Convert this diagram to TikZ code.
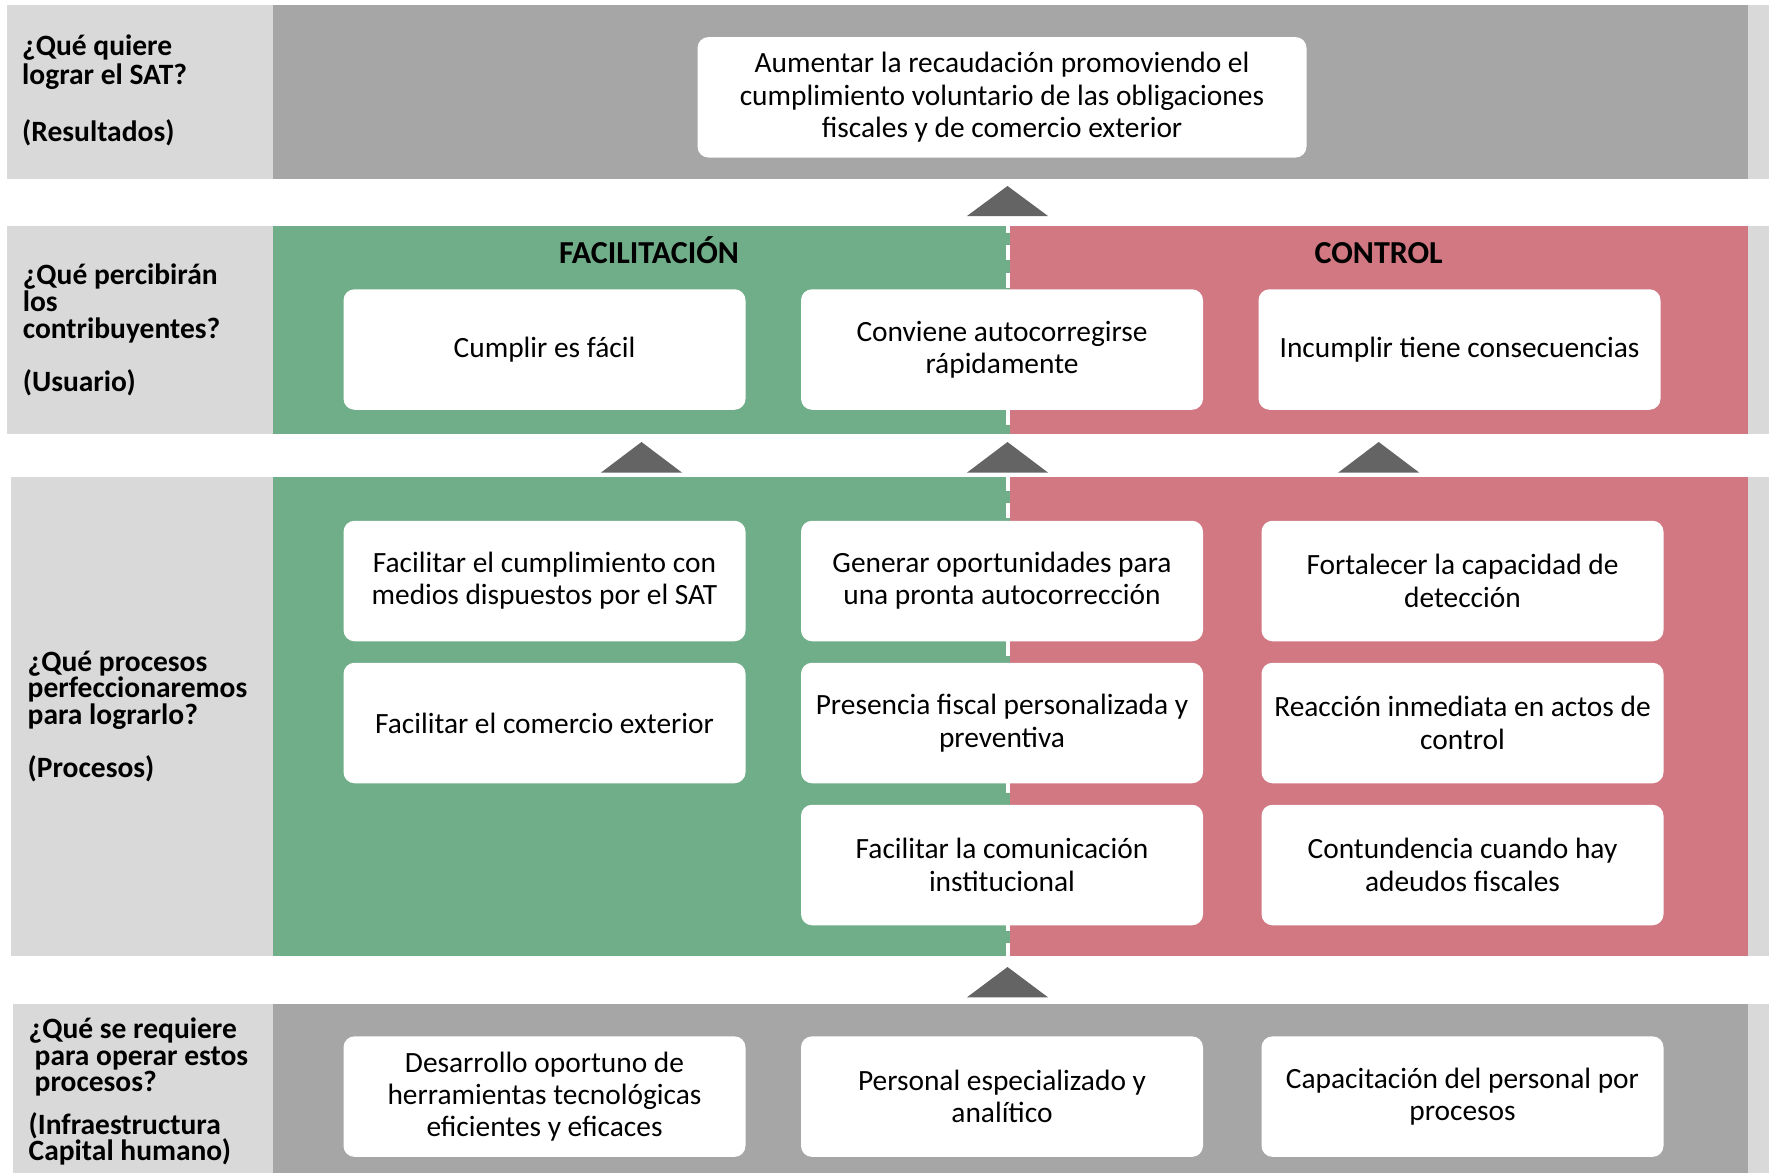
\documentclass[tikz,border=0pt]{standalone}
\usepackage{fontspec}
\setmainfont{Carlito}
\definecolor{lgray}{HTML}{D9D9D9}
\definecolor{dgray}{HTML}{A6A6A6}
\definecolor{fgreen}{RGB}{112,173,137}
\definecolor{cred}{RGB}{209,120,131}
\definecolor{trigray}{HTML}{646464}
\begin{document}
\begin{tikzpicture}[x=1pt,y=-1pt,
  box/.style={fill=white, rounded corners=11pt, minimum width=402pt, minimum height=120.5pt,
    align=center, inner sep=0pt, font=\fontsize{29.4}{32.3}\selectfont},
  lbl/.style={anchor=base west, inner sep=0pt, font=\bfseries\fontsize{29.5}{27}\selectfont},
  head/.style={anchor=base, inner sep=0pt, font=\bfseries\fontsize{32}{34}\selectfont},
  divider/.style={white, line width=4.4pt, dash pattern=on 15pt off 12.5pt},
  uptri/.style={fill=trigray}]
\useasboundingbox (0,0) rectangle (1769,1173);
\fill[white] (0,0) rectangle (1769,1173);
% row 1
\fill[lgray] (6.8,5.3) rectangle (273,178.5);
\fill[dgray] (273,5.3) rectangle (1747.6,178.5);
\fill[lgray] (1747.6,5.3) rectangle (1769,178.5);
% row 2
\fill[lgray] (7.3,225.6) rectangle (273,434.4);
\fill[fgreen] (273,225.6) rectangle (1010,434.4);
\fill[cred] (1010,225.6) rectangle (1747.6,434.4);
\fill[lgray] (1747.6,225.6) rectangle (1769,434.4);
% row 3
\fill[lgray] (10.7,476.9) rectangle (273,955.7);
\fill[fgreen] (273,476.9) rectangle (1010,955.7);
\fill[cred] (1010,476.9) rectangle (1747.6,955.7);
\fill[lgray] (1747.6,476.9) rectangle (1769,955.7);
% row 4
\fill[lgray] (12.7,1004) rectangle (273,1173);
\fill[dgray] (273,1004) rectangle (1747.6,1173);
\fill[lgray] (1747.6,1004) rectangle (1769,1173);
% dashed dividers
\coordinate (d2t) at (1007.8,225.6);
\coordinate (d2b) at (1007.8,434.4);
\coordinate (d3t) at (1007.8,476.9);
\coordinate (d3b) at (1007.8,955.7);
\draw[divider, dash phase=8.1pt] (d2t) -- (d2b);
\draw[divider, dash phase=1.4pt] (d3t) -- (d3b);
% triangles
\fill[uptri] (967,216) -- (1007.5,186) -- (1048,216) -- cycle;
\fill[uptri] (601,472.6) -- (641.5,442) -- (682,472.6) -- cycle;
\fill[uptri] (967,472.6) -- (1007.5,442) -- (1048,472.6) -- cycle;
\fill[uptri] (1338.2,472.6) -- (1378.7,442) -- (1419.2,472.6) -- cycle;
\fill[uptri] (967,997.3) -- (1007.5,967) -- (1048,997.3) -- cycle;
% labels
\node[lbl] (q1a) at (22,55.5) {¿Qué quiere};
\node[lbl] (q1b) at (22,84) {lograr el SAT?};
\node[lbl] (q1c) at (22,141) {(Resultados)};
\node[lbl] (q2a) at (22.6,284.5) {¿Qué percibirán};
\node[lbl] (q2b) at (22.6,311) {los};
\node[lbl] (q2c) at (22.6,338) {contribuyentes?};
\node[lbl] (q2d) at (22.6,391) {(Usuario)};
\node[lbl] (q3a) at (27.5,671) {¿Qué procesos};
\node[lbl] (q3b) at (27.5,697.5) {perfeccionaremos};
\node[lbl] (q3c) at (27.5,724) {para lograrlo?};
\node[lbl] (q3d) at (27.5,777.5) {(Procesos)};
\node[lbl] (q4a) at (28.5,1038.5) {¿Qué se requiere};
\node[lbl] (q4b) at (34.5,1065) {para operar estos};
\node[lbl] (q4c) at (34.5,1091) {procesos?};
\node[lbl] (q4d) at (28.5,1134) {(Infraestructura};
\node[lbl] (q4e) at (28.5,1160.5) {Capital humano)};
% headings
\node[head] (hfac) at (649,263) {FACILITACIÓN};
\node[head] (hcon) at (1378.7,263) {CONTROL};
% boxes
\node[box, minimum width=609pt] (res) at (1002,97.3) {Aumentar la recaudación promoviendo el\\cumplimiento voluntario de las obligaciones\\fiscales y de comercio exterior};
\node[box] (u1) at (544.5,349.5) {Cumplir es fácil};
\node[box] (u2) at (1002,349.5) {Conviene autocorregirse\\rápidamente};
\node[box] (u3) at (1459.5,349.5) {Incumplir tiene consecuencias};
\node[box] (p11) at (544.5,581) {Facilitar el cumplimiento con\\medios dispuestos por el SAT};
\node[box] (p12) at (544.5,723) {Facilitar el comercio exterior};
\node[box] (p21) at (1002,581) {Generar oportunidades para\\una pronta autocorrección};
\node[box] (p22) at (1002,723) {Presencia fiscal personalizada y\\preventiva};
\node[box] (p23) at (1002,865) {Facilitar la comunicación\\institucional};
\node[box] (p31) at (1462.5,581) {Fortalecer la capacidad de\\detección};
\node[box] (p32) at (1462.5,723) {Reacción inmediata en actos de\\control};
\node[box] (p33) at (1462.5,865) {Contundencia cuando hay\\adeudos fiscales};
\node[box] (i1) at (544.5,1096.6) {Desarrollo oportuno de\\herramientas tecnológicas\\eficientes y eficaces};
\node[box] (i2) at (1002,1096.6) {Personal especializado y\\analítico};
\node[box] (i3) at (1462.5,1096.6) {Capacitación del personal por\\procesos};
\end{tikzpicture}
\end{document}
